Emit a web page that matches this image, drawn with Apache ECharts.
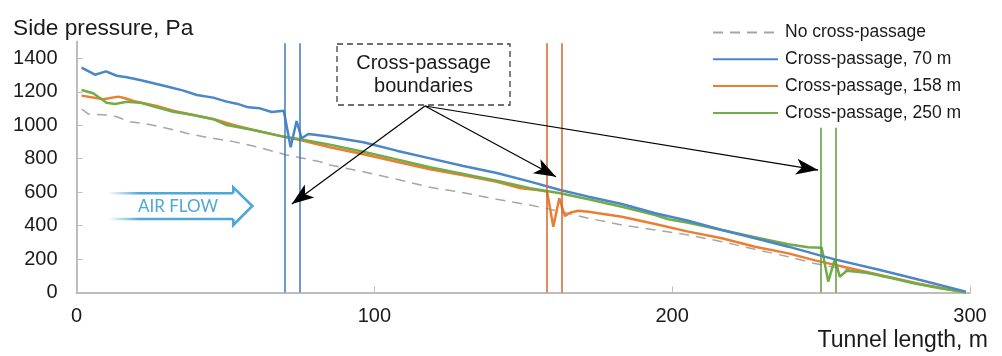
<!DOCTYPE html>
<html>
<head>
<meta charset="utf-8">
<script src="https://cdn.jsdelivr.net/npm/echarts@6/dist/echarts.min.js"></script>
<style>
  html, body { margin: 0; padding: 0; background: #fff; }
  #chart { width: 1002px; height: 356px; }
</style>
</head>
<body>
<div id="chart"></div>
<script>
// 数据: [隧道长度 m, 侧压 Pa]
const noPassage = [[1.7,1097],[4,1067],[10.1,1061],[13.5,1051],[18,1021],[23.6,1007],[30.3,982],[37,952],[43.7,928],[52.7,902],[61.6,866],[70.6,822],[75.1,806],[81.8,782],[85.1,762],[96.3,722],[107.5,677],[118.7,629],[129.9,597],[141.1,557],[152.3,523],[159.1,497],[167.4,463],[171.9,444],[183.1,404],[194.3,374],[205.4,344],[216.7,304],[227.8,258],[239,214],[247.4,175],[258.6,137],[269.8,99],[283.3,50],[298.6,0]];
const passage70 = [[1.7,1344],[6.2,1302],[9.9,1322],[13.5,1296],[16.9,1287],[21.3,1270],[26.9,1247],[31.4,1227],[35.9,1207],[40.4,1181],[45.9,1165],[50.4,1141],[53.8,1129],[57.7,1107],[61.6,1101],[65.5,1079],[69.6,1087],[71.9,868],[73.9,1025],[75.6,922],[77.8,948],[80.7,942],[85.1,931],[96.3,898],[107.5,848],[118.7,802],[129.9,756],[141.1,714],[152.3,663],[162.4,613],[171.9,573],[183.1,529],[194.3,474],[205.4,429],[216.7,374],[227.8,324],[239,274],[250.2,219],[254.6,198],[269.8,135],[283.3,75],[298.6,5]];
const passage158 = [[1.7,1177],[9,1155],[14,1171],[16.3,1161],[19.1,1145],[26.9,1115],[32.5,1087],[39.2,1061],[45.9,1037],[52.7,1001],[59.4,972],[69.4,932],[75.1,912],[85.1,868],[96.3,826],[107.5,782],[118.7,737],[129.9,701],[141.1,662],[149.2,623],[154.8,613],[158,603],[160.1,393],[162.1,563],[164,457],[165.7,477],[168.5,489],[171.9,483],[183.1,453],[194.3,410],[205.4,364],[216.7,324],[227.8,274],[239,234],[248,192],[258.6,150],[269.8,105],[283.3,51],[298.6,0]];
const passage250 = [[1.7,1211],[5.6,1191],[10.1,1135],[12.9,1127],[16.9,1141],[21.3,1135],[26.9,1107],[32.5,1081],[39.2,1061],[45.9,1036],[50.4,1001],[59.4,972],[69.4,932],[75.1,916],[85.1,884],[96.3,842],[107.5,796],[118.7,749],[129.9,709],[141.1,668],[152.3,623],[162.4,593],[171.9,557],[183.1,513],[194.3,463],[198.7,438],[205.4,417],[216.7,374],[227.8,330],[239,288],[245.7,270],[250.2,268],[252.4,65],[254.6,198],[256.3,94],[258.6,130],[265.3,118],[273.2,88],[281,55],[289.9,25],[298.6,1]];

// 横通道边界位置 m
const bounds70 = [70, 75];
const bounds158 = [158, 163];
const bounds250 = [250, 255];

// 标注箭头 (起点 -> 终点)
const arrowFrom = [117, 1115];
const arrowTo = [[72.3, 529], [161, 692], [249, 732]];

var myChart = echarts.init(document.getElementById('chart'));

function boundLines(xs, top) {
    return xs.map(function (x) {
        return [{ coord: [x, 0] }, { coord: [x, top] }];
    });
}

var font = 'Liberation Sans, Arial, sans-serif';
var airColor = '#4da7d9';

option = {
    animation: false,
    textStyle: { fontFamily: font },
    title: [{
        text: 'Side pressure, Pa',
        left: 8, top: 12,
        textStyle: { fontSize: 22.7, fontWeight: 'normal', color: '#1a1a1a', fontFamily: font }
    }, {
        text: 'Tunnel length, m',
        right: 9, bottom: -1,
        textStyle: { fontSize: 23, fontWeight: 'normal', color: '#1a1a1a', fontFamily: font }
    }],
    legend: {
        data: ['No cross-passage', 'Cross-passage, 70 m', 'Cross-passage, 158 m', 'Cross-passage, 250 m'],
        orient: 'vertical',
        left: 712, top: 23.5, padding: 0,
        itemWidth: 65, itemHeight: 14, itemGap: 8.8,
        itemStyle: { opacity: 0 },
        textStyle: { fontSize: 17.5, color: '#1a1a1a', fontFamily: font, padding: [0, 0, 0, 2] }
    },
    grid: { left: 76.5, right: 32, top: 41.6, bottom: 63.5 },
    xAxis: {
        type: 'value', min: 0, max: 300, interval: 100,
        axisLine: { lineStyle: { color: '#bdbdbd', width: 2 } },
        axisTick: { show: true, inside: true, length: 6, lineStyle: { color: '#bdbdbd', width: 1 } },
        axisLabel: { fontSize: 20, color: '#1a1a1a', margin: 14, fontFamily: font },
        splitLine: { show: false }
    },
    yAxis: {
        type: 'value', min: 0, max: 1500, interval: 200,
        axisLine: { show: true, lineStyle: { color: '#bdbdbd', width: 2 } },
        axisTick: { show: true, inside: true, length: 6, lineStyle: { color: '#bdbdbd', width: 1 } },
        axisLabel: {
            fontSize: 20, color: '#1a1a1a', margin: 19, showMaxLabel: false, fontFamily: font,
            formatter: function (v) { return String(v); }
        },
        splitLine: { show: false }
    },
    series: [{
        name: 'No cross-passage', type: 'line', data: noPassage,
        symbol: 'none', color: '#a6a6a6',
        lineStyle: { color: '#a6a6a6', width: 1.5, type: [10, 7] }
    }, {
        name: 'Cross-passage, 70 m', type: 'line', data: passage70,
        symbol: 'none', color: '#4a86c8', z: 4,
        lineStyle: { color: '#4a86c8', width: 2.5 },
        markLine: {
            silent: true, symbol: 'none', label: { show: false },
            lineStyle: { color: '#3f78c0', width: 1.5, type: 'solid' },
            data: boundLines(bounds70, 1490)
        }
    }, {
        name: 'Cross-passage, 158 m', type: 'line', data: passage158,
        symbol: 'none', color: '#ed7d31', z: 3,
        lineStyle: { color: '#ed7d31', width: 2.5 },
        markLine: {
            silent: true, symbol: 'none', label: { show: false },
            lineStyle: { color: '#d0662a', width: 1.5, type: 'solid' },
            data: boundLines(bounds158, 1490)
        }
    }, {
        name: 'Cross-passage, 250 m', type: 'line', data: passage250,
        symbol: 'none', color: '#70ad47', z: 3,
        lineStyle: { color: '#70ad47', width: 2.5 },
        markLine: {
            silent: true, symbol: 'none', label: { show: false },
            lineStyle: { color: '#5c9a3a', width: 1.5, type: 'solid' },
            data: boundLines(bounds250, 985)
        }
    }, {
        name: 'arrows', type: 'line', data: [], z: 5,
        markLine: {
            silent: true, symbol: ['none', 'arrow'], symbolSize: [12, 22],
            label: { show: false },
            lineStyle: { color: '#000', width: 1.2, type: 'solid' },
            data: arrowTo.map(function (p) {
                return [{ coord: arrowFrom }, { coord: p }];
            })
        }
    }],
    graphic: [{
        type: 'rect',
        shape: { x: 337, y: 44, width: 173, height: 61 },
        style: { fill: '#fff', stroke: '#404040', lineWidth: 1.3, lineDash: [6, 4] },
        z: 10
    }, {
        type: 'text',
        x: 423.5, y: 74.5, z: 11,
        style: {
            text: 'Cross-passage\nboundaries', fontSize: 20, lineHeight: 23,
            fontFamily: font, fill: '#1a1a1a', align: 'center', verticalAlign: 'middle'
        }
    }, {
        // 风流方向箭头
        type: 'line', z: 10,
        shape: { x1: 108, y1: 193.3, x2: 233.3, y2: 193.3 },
        style: {
            lineWidth: 2.6,
            stroke: new echarts.graphic.LinearGradient(108, 0, 140, 0, [
                { offset: 0, color: 'rgba(77,167,217,0)' },
                { offset: 1, color: airColor }
            ], true)
        }
    }, {
        type: 'line', z: 10,
        shape: { x1: 108, y1: 219, x2: 233.3, y2: 219 },
        style: {
            lineWidth: 2.6,
            stroke: new echarts.graphic.LinearGradient(108, 0, 140, 0, [
                { offset: 0, color: 'rgba(77,167,217,0)' },
                { offset: 1, color: airColor }
            ], true)
        }
    }, {
        type: 'polyline', z: 10,
        shape: { points: [[233.3, 193.3], [233.3, 187.3], [252.3, 206], [233.3, 225], [233.3, 219]] },
        style: { fill: 'none', stroke: airColor, lineWidth: 2.6, lineJoin: 'miter' }
    }, {
        type: 'text', x: 178, y: 207, z: 11,
        style: {
            text: 'AIR FLOW', fontSize: 17, fontFamily: 'Lato, Open Sans, sans-serif',
            fill: airColor, align: 'center', verticalAlign: 'middle'
        }
    }]
};

myChart.setOption(option);
</script>
</body>
</html>
